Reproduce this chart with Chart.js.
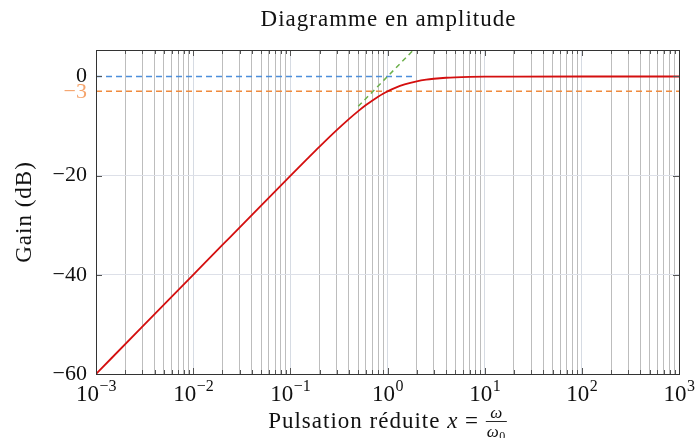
<!DOCTYPE html>
<html><head><meta charset="utf-8">
<script src="https://cdn.jsdelivr.net/npm/chart.js@4/dist/chart.umd.min.js"></script>
<style>html,body{margin:0;padding:0;background:#fff}#c{display:block}</style>
</head><body>
<div style="width:696px;height:438px"><canvas id="c" width="696" height="438"></canvas></div>
<script>
// Data
const gainX = [0.001, 0.003, 0.01, 0.02, 0.05, 0.1, 0.15, 0.2, 0.3, 0.4, 0.5, 0.6, 0.7, 0.8, 0.9, 1, 1.2, 1.5, 2, 2.5, 3, 4, 5, 7, 10, 20, 100, 1000];
const gainY = [-60, -50.46, -40, -33.98, -26.03, -20.04, -16.58, -14.15, -10.83, -8.6, -6.99, -5.77, -4.83, -4.09, -3.49, -3.01, -2.29, -1.6, -0.97, -0.64, -0.46, -0.26, -0.17, -0.09, -0.04, -0.01, 0, 0];
const asymX = [0.5, 2];
const asymY = [-6.02, 6.02];
const zeroX = [0.001, 1.8];
const zeroY = [0, 0];
const cutX = [0.001, 1000];
const cutY = [-3, -3];
const decades = [-3, -2, -1, 0, 1, 2, 3];
const yTickValues = [-60, -40, -20, -3, 0];
const yTickLabels = ['\u221260', '\u221240', '\u221220', '\u22123', '0'];
const titleText = 'Diagramme en amplitude';
const yTitle = 'Gain (dB)';
const xTitle = 'Pulsation r\u00e9duite ';

const pts = (xs, ys) => xs.map((x, i) => ({x: x, y: ys[i]}));
const FONT = '"Liberation Serif", "DejaVu Serif", serif';

const xTickList = [];
for (let e = -3; e < 3; e++) for (let m = 1; m < 10; m++) xTickList.push(m * Math.pow(10, e));
xTickList.push(1000);
const isDecade = v => Math.abs(Math.log10(v) - Math.round(Math.log10(v))) < 1e-9;

const deco = {
  id: 'deco',
  afterDraw(chart) {
    const ctx = chart.ctx, a = chart.chartArea, xs = chart.scales.x, ys = chart.scales.y;
    ctx.save();
    // tick marks inward
    ctx.strokeStyle = '#555'; ctx.lineWidth = 1;
    xTickList.forEach(v => {
      const px = Math.round(xs.getPixelForValue(v)) + 0.5;
      const L = isDecade(v) ? 6 : 4;
      ctx.beginPath();
      ctx.moveTo(px, a.bottom); ctx.lineTo(px, a.bottom - L);
      ctx.moveTo(px, a.top); ctx.lineTo(px, a.top + L);
      ctx.stroke();
    });
    yTickValues.forEach(v => {
      if (v === -3) return;
      const py = Math.round(ys.getPixelForValue(v)) + 0.5;
      ctx.beginPath();
      ctx.moveTo(a.left, py); ctx.lineTo(a.left + 6, py);
      ctx.moveTo(a.right, py); ctx.lineTo(a.right - 6, py);
      ctx.stroke();
    });
    // frame
    ctx.strokeStyle = '#333';
    ctx.strokeRect(Math.round(a.left) + 0.5, Math.round(a.top) + 0.5, Math.round(a.right - a.left), Math.round(a.bottom - a.top));
    // y tick labels
    ctx.textBaseline = 'middle'; ctx.textAlign = 'right';
    ctx.font = '22px ' + FONT;
    yTickValues.forEach((v, i) => {
      ctx.fillStyle = v === -3 ? '#f5a46c' : '#111';
      const dy = v === -3 ? 1 : 0;
      ctx.fillText(yTickLabels[i], a.left - 9, ys.getPixelForValue(v) + dy);
    });
    // x tick labels 10^e
    ctx.fillStyle = '#111'; ctx.textBaseline = 'alphabetic';
    decades.forEach(e => {
      const px = xs.getPixelForValue(Math.pow(10, e));
      const base = '10', exp = (e < 0 ? '\u2212' : '') + Math.abs(e);
      ctx.font = '23px ' + FONT; const wb = ctx.measureText(base).width;
      ctx.font = '16px ' + FONT; const we = ctx.measureText(exp).width;
      const x0 = px - (wb + we) / 2;
      ctx.font = '23px ' + FONT; ctx.textAlign = 'left';
      ctx.fillText(base, x0, a.bottom + 27);
      ctx.font = '16px ' + FONT;
      ctx.fillText(exp, x0 + wb + 0.5, a.bottom + 17);
    });
    // title
    ctx.letterSpacing = '1px';
    ctx.textAlign = 'center'; ctx.font = '23px ' + FONT;
    ctx.fillText(titleText, (a.left + a.right) / 2 + 1, 26);
    // y title
    ctx.save(); ctx.translate(31, (a.top + a.bottom) / 2); ctx.rotate(-Math.PI / 2);
    ctx.font = '23px ' + FONT; ctx.textAlign = 'center'; ctx.letterSpacing = '1px'; ctx.fillText(yTitle, 0, 0); ctx.restore();
    // x title with fraction
    ctx.textAlign = 'left';
    ctx.font = '23px ' + FONT; const w1 = ctx.measureText(xTitle).width;
    ctx.font = 'italic 23px ' + FONT; const w2 = ctx.measureText('x').width;
    ctx.font = '23px ' + FONT; const w3 = ctx.measureText(' = ').width;
    ctx.letterSpacing = '0px';
    ctx.font = 'italic 17px ' + FONT; const wom = ctx.measureText('\u03c9').width;
    ctx.font = '12px ' + FONT; const wz = ctx.measureText('0').width;
    const wf = wom + wz + 3;
    const total = w1 + w2 + w3 + wf;
    let x = (a.left + a.right) / 2 - total / 2;
    const yb = a.bottom + 54;
    ctx.letterSpacing = '1px';
    ctx.font = '23px ' + FONT; ctx.fillText(xTitle, x, yb); x += w1;
    ctx.font = 'italic 23px ' + FONT; ctx.fillText('x', x, yb); x += w2;
    ctx.font = '23px ' + FONT; ctx.fillText(' = ', x, yb); x += w3;
    ctx.letterSpacing = '0px';
    ctx.font = 'italic 17px ' + FONT; ctx.textAlign = 'center';
    ctx.fillText('\u03c9', x + wf / 2, yb - 10);
    ctx.textAlign = 'left';
    const dx = x + 1;
    ctx.fillText('\u03c9', dx, yb + 9);
    ctx.font = '12px ' + FONT;
    ctx.fillText('0', dx + wom + 0.5, yb + 12);
    ctx.strokeStyle = '#111'; ctx.lineWidth = 0.9;
    ctx.beginPath(); ctx.moveTo(x, yb - 6.5); ctx.lineTo(x + wf, yb - 6.5); ctx.stroke();
    ctx.restore();
  }
};

new Chart(document.getElementById('c'), {
  type: 'scatter',
  data: {
    datasets: [
      {data: pts(cutX, cutY), showLine: true, borderColor: '#f08a3c', borderWidth: 1.5, borderDash: [6, 4], pointRadius: 0, order: 3},
      {data: pts(zeroX, zeroY), showLine: true, borderColor: '#4d8fdb', borderWidth: 1.6, borderDash: [6, 4], pointRadius: 0, order: 2},
      {data: pts(asymX, asymY), showLine: true, borderColor: '#6cb04a', borderWidth: 1.5, borderDash: [5, 4], pointRadius: 0, order: 1},
      {data: pts(gainX, gainY), showLine: true, borderColor: '#d40f0f', borderWidth: 1.8, pointRadius: 0, cubicInterpolationMode: 'monotone', order: 0}
    ]
  },
  options: {
    responsive: false, animation: false,
    layout: {padding: {left: 96, right: 17, top: 50, bottom: 64}},
    plugins: {legend: {display: false}, tooltip: {enabled: false}},
    scales: {
      x: {
        type: 'logarithmic', min: 0.001, max: 1000,
        afterBuildTicks: s => { s.ticks = xTickList.map(v => ({value: v})); },
        ticks: {display: false},
        border: {display: false},
        grid: {drawTicks: false, lineWidth: 1, color: c => isDecade(c.tick.value) ? '#d6dbe3' : '#bdbdbd'}
      },
      y: {
        min: -60, max: 5.34,
        afterBuildTicks: s => { s.ticks = yTickValues.map(v => ({value: v})); },
        ticks: {display: false},
        border: {display: false},
        grid: {drawTicks: false, lineWidth: 1, color: c => (c.tick.value === -20 || c.tick.value === -40) ? '#dde0e8' : 'rgba(0,0,0,0)'}
      }
    }
  },
  plugins: [deco]
});
</script>
</body></html>
